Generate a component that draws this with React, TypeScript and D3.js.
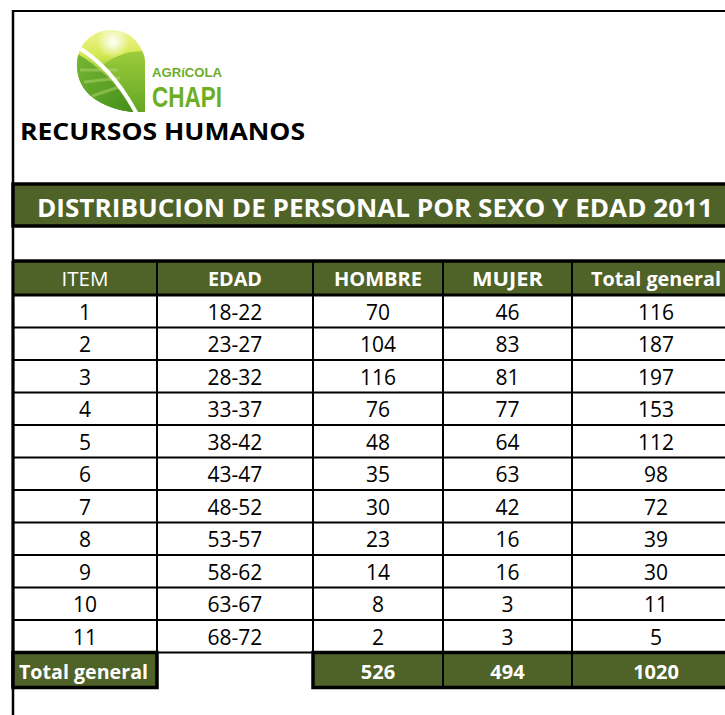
import React from "react";
import * as d3 from "d3";

const title = "DISTRIBUCION DE PERSONAL POR SEXO Y EDAD 2011";
const headers = ["ITEM", "EDAD", "HOMBRE", "MUJER", "Total general"];
const items = ["1", "2", "3", "4", "5", "6", "7", "8", "9", "10", "11"];
const edades = ["18-22", "23-27", "28-32", "33-37", "38-42", "43-47", "48-52", "53-57", "58-62", "63-67", "68-72"];
const hombre = [70, 104, 116, 76, 48, 35, 30, 23, 14, 8, 2];
const mujer = [46, 83, 81, 77, 64, 63, 42, 16, 16, 3, 3];
const totalGeneral = [116, 187, 197, 153, 112, 98, 72, 39, 30, 11, 5];
const totals = [526, 494, 1020];
const totalLabel = "Total general";

const GREEN = "#4f6228";
const FONT = "'Open Sans', 'Noto Sans', sans-serif";
const LOGO_FONT = "'Liberation Sans', Arial, sans-serif";
const colEdges = [13, 157, 313, 443, 572, 740];
const headerWidths = [47, 54, 88, 71, 130];
const headerBold = [false, true, true, true, true];

export default function App() {
  const W = 725, H = 715;
  const headerTop = 261, headerBottom = 295;
  const rowY = d3.scaleLinear().domain([0, items.length]).range([headerBottom, headerBottom + 32.5 * items.length]);
  const totalTop = rowY(items.length);
  const totalBottom = totalTop + 35;
  const cx = (i: number) => (colEdges[i] + colEdges[i + 1]) / 2;
  const rows = items.map((it, i) => [it, edades[i], String(hombre[i]), String(mujer[i]), String(totalGeneral[i])]);

  return (
    <svg width={W} height={H} style={{ position: "absolute", left: 0, top: 0, background: "#fff" }} fontFamily={FONT}>
      <defs>
        <clipPath id="leaf">
          <path d="M 145,112 L 132,112 C 100,108 77,92 77,66 A 34,34 0 0 1 145,62 Z" />
        </clipPath>
        <linearGradient id="sky" x1="0" y1="0" x2="0" y2="1">
          <stop offset="0" stopColor="#f2f6a0" />
          <stop offset="0.3" stopColor="#d8ea55" />
          <stop offset="0.6" stopColor="#7ebb2c" />
          <stop offset="1" stopColor="#4e931c" />
        </linearGradient>
        <radialGradient id="sun" cx="0.5" cy="0.5" r="0.5">
          <stop offset="0" stopColor="#ffffff" stopOpacity="1" />
          <stop offset="1" stopColor="#ffffff" stopOpacity="0" />
        </radialGradient>
        <linearGradient id="hill" x1="0" y1="0" x2="0" y2="1">
          <stop offset="0" stopColor="#9ccc3c" />
          <stop offset="1" stopColor="#5fa322" />
        </linearGradient>
        <linearGradient id="dark" x1="0" y1="0" x2="1" y2="1">
          <stop offset="0" stopColor="#7dba36" />
          <stop offset="1" stopColor="#3f8a18" />
        </linearGradient>
      </defs>

      {/* frame */}
      <line x1={12} y1={11} x2={W} y2={11} stroke="#000" strokeWidth={2} />
      <line x1={13} y1={10} x2={13} y2={H} stroke="#000" strokeWidth={2.5} />

      {/* logo */}
      <g clipPath="url(#leaf)">
        <rect x={70} y={25} width={80} height={95} fill="url(#sky)" />
        <circle cx={113} cy={42} r={16} fill="url(#sun)" />
        <path d="M 104,64 Q 125,48 150,52 L 150,118 L 120,118 Z" fill="url(#hill)" />
        <path d="M 70,50 Q 108,68 139,118 L 70,118 Z" fill="url(#dark)" />
        <path d="M 80,70 L 118,70 M 84,82 L 120,78 M 92,96 L 122,86" stroke="#b8dc7a" strokeOpacity={0.45} strokeWidth={3} />
        <path d="M 70,43 Q 110,62 139,118" fill="none" stroke="#fff" strokeWidth={4} />
      </g>
      <text x={152} y={77} fontFamily={LOGO_FONT} fontSize={12.5} fontWeight="bold" fill="#6cae24" textLength={70} lengthAdjust="spacingAndGlyphs">AGRíCOLA</text>
      <text x={152} y={107} fontFamily={LOGO_FONT} fontSize={30} fontWeight="bold" fill="#6cae24" textLength={70} lengthAdjust="spacingAndGlyphs">CHAPI</text>

      <text x={20} y={140} fontSize={24} fontWeight="bold" fill="#000" textLength={285} lengthAdjust="spacingAndGlyphs">RECURSOS HUMANOS</text>

      {/* title bar */}
      <rect x={13} y={184} width={W} height={42} fill={GREEN} stroke="#000" strokeWidth={3.5} />
      <text x={37} y={217} fontSize={25} fontWeight="bold" fill="#fff" textLength={676} lengthAdjust="spacingAndGlyphs">{title}</text>

      {/* header */}
      <rect x={13} y={headerTop} width={W} height={headerBottom - headerTop} fill={GREEN} />
      {headers.map((h, i) => (
        <text key={h} x={cx(i)} y={286} fontSize={20} fontWeight={headerBold[i] ? "bold" : "normal"} fill="#fff"
          textAnchor="middle" textLength={headerWidths[i]} lengthAdjust="spacingAndGlyphs">{h}</text>
      ))}

      {/* body */}
      {rows.map((r, ri) => (
        <g key={ri}>
          {r.map((v, ci) => (
            <text key={ci} x={cx(ci)} y={(rowY(ri) + rowY(ri + 1)) / 2 + 8.5} fontSize={21} fill="#000" textAnchor="middle">{v}</text>
          ))}
        </g>
      ))}
      {/* row lines */}
      {d3.range(1, items.length).map((i) => (
        <line key={i} x1={13} x2={W} y1={rowY(i)} y2={rowY(i)} stroke="#000" strokeWidth={2} />
      ))}
      {/* column lines */}
      {colEdges.slice(1, 5).map((x, i) => (
        <line key={i} x1={x} x2={x} y1={headerTop} y2={totalTop} stroke="#000" strokeWidth={2} />
      ))}
      <line x1={13} x2={W} y1={headerTop} y2={headerTop} stroke="#000" strokeWidth={3.5} />
      <line x1={13} x2={W} y1={headerBottom} y2={headerBottom} stroke="#000" strokeWidth={3} />
      <line x1={13} x2={13} y1={headerTop} y2={totalBottom} stroke="#000" strokeWidth={3} />

      {/* total row */}
      <line x1={157} x2={313} y1={totalTop} y2={totalTop} stroke="#000" strokeWidth={2} />
      <rect x={13} y={totalTop} width={144} height={totalBottom - totalTop} fill={GREEN} stroke="#000" strokeWidth={3.5} />
      <text x={19} y={totalTop + 26} fontSize={20} fontWeight="bold" fill="#fff" textLength={129} lengthAdjust="spacingAndGlyphs">{totalLabel}</text>
      <rect x={313} y={totalTop} width={W} height={totalBottom - totalTop} fill={GREEN} stroke="#000" strokeWidth={3.5} />
      {[443, 572].map((x) => (
        <line key={x} x1={x} x2={x} y1={totalTop} y2={totalBottom} stroke="#000" strokeWidth={2} />
      ))}
      {totals.map((v, i) => (
        <text key={i} x={cx(i + 2)} y={totalTop + 26} fontSize={20} fontWeight="bold" fill="#fff" textAnchor="middle">{v}</text>
      ))}
    </svg>
  );
}
